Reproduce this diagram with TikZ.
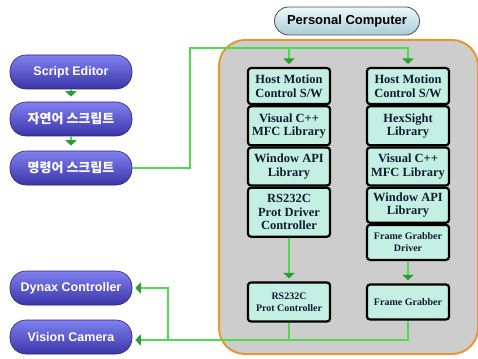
\documentclass[tikz,border=0pt]{standalone}
\usepackage{fontspec}
\setmainfont{Liberation Serif}
\setsansfont{Liberation Sans}
\newfontfamily\krfont{Noto Sans CJK KR}
\usetikzlibrary{arrows.meta,positioning,calc}
\definecolor{pillhi}{HTML}{8080F0}
\definecolor{pilllo}{HTML}{3B35A8}
\definecolor{pilledge}{HTML}{2A2670}
\definecolor{pchi}{HTML}{EEF8FA}
\definecolor{pclo}{HTML}{A8CDD6}
\definecolor{cyanbox}{HTML}{C4F0E4}
\definecolor{frame}{HTML}{E8962E}
\definecolor{panel}{HTML}{CDCDCD}
\definecolor{wire}{HTML}{4EDC4E}
\definecolor{tipgreen}{HTML}{2C9C34}
\definecolor{boxtext}{HTML}{141A30}
\tikzset{>={Triangle[width=11pt,length=5.5pt,color=tipgreen]},
pill/.style={draw=pilledge,line width=0.6pt,rounded corners=16pt,top color=pillhi,bottom color=pilllo,minimum width=122pt,minimum height=34pt,text=white,font=\sffamily\bfseries\fontsize{12.5}{14}\selectfont},
pcpill/.style={draw=black!70,line width=0.8pt,rounded corners=14pt,top color=pchi,bottom color=pclo,minimum width=145pt,minimum height=28pt,font=\sffamily\bfseries\fontsize{13}{15}\selectfont},
libbox/.style={draw=black,line width=2.2pt,rounded corners=3pt,fill=cyanbox,text=boxtext,align=center,inner sep=1pt,minimum width=82pt,font=\bfseries\fontsize{12.5}{13.5}\selectfont},
smallbox/.style={libbox,font=\bfseries\fontsize{10}{12}\selectfont},
link/.style={->,wire,line width=1.8pt,shorten >=3pt},
wireline/.style={wire,line width=1.8pt}}

\begin{document}
\begin{tikzpicture}[x=1pt,y=-1pt]
\useasboundingbox (0,0) rectangle (478,358);
% PC panel
\filldraw[fill=panel,draw=frame,line width=2pt,rounded corners=26pt] (219,40) rectangle (478,354);
\node[pcpill] (pc) at (347,21) {Personal Computer};
% left side pills
\node[pill] (edit) at (71,72) {Script Editor};
\node[pill] (nat) at (71,119) {\krfont\bfseries\fontsize{13}{14}\selectfont 자연어 스크립트};
\node[pill] (cmd) at (71,168) {\krfont\bfseries\fontsize{13}{14}\selectfont 명령어 스크립트};
\node[pill] (dyn) at (71,288) {Dynax Controller};
\node[pill] (cam) at (71,337) {Vision Camera};
% motion control column
\node[libbox,minimum height=36pt,anchor=north] (hmA) at (289,67) {Host Motion\\Control S/W};
\node[libbox,minimum height=39pt,below=0pt of hmA] (mfcA) {Visual C++\\MFC Library};
\node[libbox,minimum height=38pt,below=0pt of mfcA] (apiA) {Window API\\Library};
\node[libbox,minimum height=49pt,below=0pt of apiA] (rsd) {RS232C\\Prot Driver\\Controller};
\node[smallbox,minimum height=39pt] (rsc) at (289,302) {RS232C\\Prot Controller};
% vision column
\node[libbox,minimum height=36pt,anchor=north] (hmB) at (408,67) {Host Motion\\Control S/W};
\node[libbox,minimum height=39pt,below=0pt of hmB] (hex) {HexSight\\Library};
\node[libbox,minimum height=38pt,below=0pt of hex] (mfcB) {Visual C++\\MFC Library};
\node[libbox,minimum height=35pt,below=0pt of mfcB] (apiB) {Window API\\Library};
\node[smallbox,minimum height=35pt,below=0pt of apiB] (fgd) {Frame Grabber\\Driver};
\node[smallbox,minimum height=35pt] (fg) at (408,302) {Frame Grabber};
% connectors
\draw[link,shorten >=5pt] (edit) -- (nat);
\draw[link,shorten >=5pt] (nat) -- (cmd);
\coordinate (turn) at (190,48);
\draw[link] (cmd.east) -| (turn) -| (hmB.north);
\draw[link] (turn -| hmA.north) -- (hmA.north);
\draw[link] (rsd) -- (rsc);
\draw[link] (fgd) -- (fg);
\coordinate (split) at (168,340);
\draw[link] (fg.south) |- (split) -- (split -| cam.east);
\draw[wireline] (rsc.south) -- (rsc.south |- split);
\draw[link] (split) |- (dyn.east);
\end{tikzpicture}
\end{document}
